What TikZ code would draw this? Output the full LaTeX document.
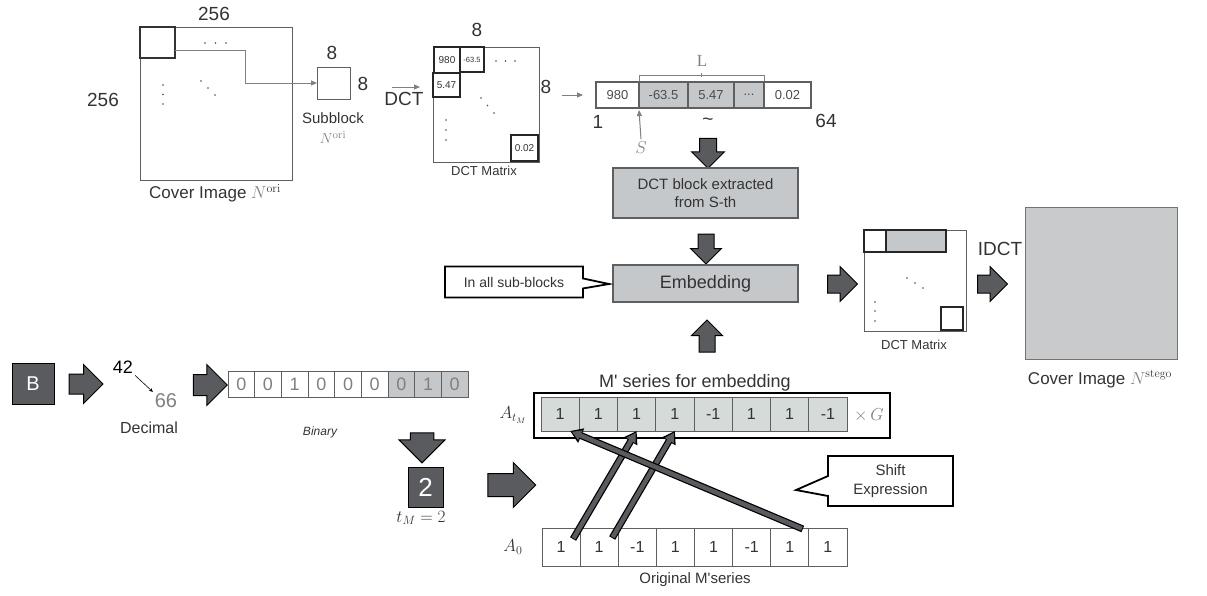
\documentclass[tikz,border=0pt]{standalone}
\usepackage[no-math]{fontspec}
\setmainfont{Liberation Sans}
\newfontfamily\seriffont{Liberation Serif}
\usetikzlibrary{shapes.arrows,shapes.callouts,arrows.meta}
\definecolor{cellgray}{HTML}{C5C8CA}
\definecolor{lightcell}{HTML}{D5DBD9}
\definecolor{darkarrow}{HTML}{5A5B5E}
\definecolor{txtgray}{HTML}{808080}
\definecolor{linegray}{HTML}{5F5F5F}
\definecolor{stegogray}{HTML}{C8CACB}
\definecolor{textdark}{HTML}{333333}
\newcommand\myfs[1]{\fontsize{#1}{#1}\selectfont}
\begin{document}
\begin{tikzpicture}[x=1pt,y=-1pt,
  every node/.style={inner sep=0pt, outer sep=0pt, text=textdark},
  lbl/.style={font=\myfs{#1}},
  bigarrow/.style n args={2}{single arrow, draw=black, fill=darkarrow, line width=1pt,
     inner xsep=0pt, inner ysep=#2/4*1pt, single arrow head extend=#2/4*1pt,
     minimum height=#1pt},
  garrow/.style={draw=txtgray, line width=1pt, -{Triangle[length=6pt,width=5pt]}},
  tcell/.style={draw=black!85, line width=2.2pt},
  acell/.style={draw=linegray, line width=1.2pt, minimum height=26pt, font=\myfs{13}, text=black!70},
  shiftout/.style={draw=black, line width=7pt, -{Triangle[length=12pt,width=15pt]}},
  shiftin/.style={draw=darkarrow, line width=4.5pt, -{Triangle[length=9pt,width=10pt]}, shorten <=1pt, shorten >=2pt},
  callbox/.style={rectangle callout, draw=black, line width=1.8pt, fill=white},
  dot/.style={fill=black!70}
]
\useasboundingbox (0,0) rectangle (1207,595);

% ---------- cover image ----------
\node[draw=linegray, line width=1pt, minimum width=152pt, minimum height=153pt] (cover) at (216,103.5) {};
\node[draw=black!80, line width=1.6pt, minimum width=35pt, minimum height=31pt] (sub0) at (157.5,42.5) {};
\foreach \p in {(205,43),(215.5,43),(226,43),(163,85),(163,94.5),(163,104),(201,81),(208,88),(215,95)}
  \fill[dot] \p circle (0.9);
\node[lbl=19] at (214,14) {256};
\node[lbl=19] at (103,100) {256};
\node[lbl=17] at (215,193) {Cover Image \textcolor{txtgray}{$N$}$^{\mathrm{ori}}$};

\node[draw=linegray, line width=1pt, minimum width=33pt, minimum height=32pt] (sub) at (333.5,83) {};
\node[lbl=19] at (332,53) {8};
\node[lbl=19] at (363,84) {8};
\node[lbl=15] at (333,118) {Subblock};
\node[lbl=15, text=txtgray] at (333,137) {$N^{\mathrm{ori}}$};
\draw[garrow] ([yshift=-7.5pt]sub0.east) -- ++(70,0) |- (sub.west);

% ---------- DCT matrix ----------
\node[draw=linegray, line width=1pt, minimum width=106pt, minimum height=115pt] (dctm) at (486,104.5) {};
\coordinate (dctin) at (392,87);
\draw[garrow] (dctin) -- ([xshift=-13pt,yshift=17.5pt]dctm.west);
\node[lbl=19] at (404,99) {DCT};
\node[tcell, minimum width=26pt, minimum height=26pt, lbl=10] (d1) at (447,60) {980};
\node[tcell, minimum width=24pt, minimum height=25pt, lbl=7.5] (d2) at (472,59.5) {-63.5};
\node[tcell, minimum width=27pt, minimum height=24pt, lbl=10] (d3) at (446.5,85) {5.47};
\node[tcell, minimum width=27pt, minimum height=26pt, lbl=10] (d4) at (524.5,148) {0.02};
\foreach \p in {(496,61),(505.5,61),(515,61),(481,98),(487.5,105.5),(494,113),(446,120),(446,130),(446,140)}
  \fill[dot] \p circle (0.9);
\node[lbl=19] at (477,30) {8};
\node[lbl=19] at (546,87) {8};
\node[lbl=13] at (484,171) {DCT Matrix};

% ---------- coefficient array ----------
\node[acell, minimum width=43pt] (v1) at (617.5,95) {980};
\node[acell, minimum width=49pt, fill=cellgray] (v2) at (663.5,95) {-63.5};
\node[acell, minimum width=46pt, fill=cellgray] (v3) at (711,95) {5.47};
\node[acell, minimum width=30pt, fill=cellgray] (v4) at (749,95) {...};
\node[acell, minimum width=47pt] (v5) at (787.5,95) {0.02};
\draw[garrow] ([xshift=23pt,yshift=9.5pt]dctm.east) -- ([xshift=-13pt]v1.west);
\draw[txtgray, line width=0.9pt] ([yshift=1.5pt]v2.north west) -- ++(0,-5.5) -| ([yshift=1.5pt]v4.north east);
\draw[txtgray, line width=0.9pt] (701.5,76.5) -- (701.5,72.5);
\node[font=\seriffont\myfs{17}, text=txtgray] at (702,61) {L};
\node[lbl=19] at (598,122) {1};
\node[lbl=19] at (826,121) {64};
\node[lbl=19] at (708,122) {\textasciitilde};
\node[lbl=19, text=txtgray] (S) at (641,148) {$S$};
\draw[garrow] ([yshift=3pt]S.north) -- ([yshift=-2pt]v2.south west);

% ---------- processing boxes ----------
\node[bigarrow={30}{32}, rotate=-90] (ar1) at (708,149) {};
\node[draw=linegray, line width=1.2pt, fill=cellgray, minimum width=185pt, minimum height=50pt,
      align=center, font=\myfs{15}] (dctb) at (705.5,193) {DCT block extracted\\[3pt]from S-th};
\node[bigarrow={30}{30}, rotate=-90] (ar2) at (706,245) {};
\node[draw=linegray, line width=1.2pt, fill=cellgray, minimum width=185pt, minimum height=37pt,
      font=\myfs{18}] (emb) at (705.5,283.5) {Embedding};
\node[callbox, minimum width=138pt, minimum height=31pt, callout absolute pointer={(609,284)},
      callout pointer width=10pt, font=\myfs{14}] (call1) at (514,282) {In all sub-blocks};
\node[bigarrow={32}{30}, rotate=90] (ar3) at (707,340) {};

% ---------- DCT matrix 2 and stego ----------
\node[bigarrow={30}{34}] (ar4) at (838,284) {};
\node[draw=linegray, line width=1pt, minimum width=102pt, minimum height=101pt] (dctm2) at (915,280.5) {};
\node[tcell, minimum width=22pt, minimum height=22pt] (r1) at (875,241) {};
\node[tcell, minimum width=60pt, minimum height=22pt, fill=cellgray] (r2) at (916,241) {};
\node[tcell, minimum width=22pt, minimum height=23pt] (r3) at (952,318.5) {};
\foreach \p in {(907,278),(915,283),(923,288),(875,302),(875,311),(875,321)}
  \fill[dot] \p circle (0.9);
\node[lbl=13] at (914,345) {DCT Matrix};
\node[lbl=19] at (1000,249) {IDCT};
\node[bigarrow={30}{34}] (ar5) at (988,284) {};
\node[draw=black!55, line width=1pt, fill=stegogray, minimum width=152pt, minimum height=152pt] (stego) at (1101,283) {};
\node[lbl=17] at (1100,379) {Cover Image \textcolor{txtgray}{$N$}$^{\mathrm{stego}}$};

% ---------- message ----------
\node[draw=black, line width=1pt, fill=darkarrow, minimum width=42pt, minimum height=41pt,
      text=white, font=\myfs{20}] (B) at (33,383.5) {B};
\node[bigarrow={34}{38}] (ar6) at (81,384) {};
\node[lbl=18, text=black] (n42) at (123,367) {42};
\node[lbl=20, text=txtgray] (n66) at (166,401) {66};
\draw[-{Stealth[length=4pt,width=3.5pt]}, line width=0.6pt] ([xshift=2pt,yshift=-2pt]n42.south east) -- ([xshift=-2pt,yshift=2pt]n66.north west);
\node[lbl=16] at (149,428) {Decimal};
\node[bigarrow={34}{40}] (ar7) at (205,385) {};
\foreach \v [count=\i] in {0,0,1,0,0,0,0,1,0} {
  \ifnum\i>6 \def\fc{cellgray}\else\def\fc{white}\fi
  \node[draw=linegray, line width=1pt, fill=\fc, minimum width=26.67pt, minimum height=26pt,
        font=\myfs{18}, text=txtgray] (b\i) at ({228+26.667*(\i-0.5)},384) {\v};
}
\node[font=\itshape\myfs{12}] at (320,432) {Binary};
\node[bigarrow={30}{45}, rotate=-90] (ar8) at (422,442) {};
\node[draw=black, line width=1pt, fill=darkarrow, minimum width=35pt, minimum height=40pt,
      text=white, font=\myfs{26}] (two) at (425.5,487) {2};
\node[lbl=17] at (421,518) {$t_M = 2$};
\node[bigarrow={48}{44}] (ar9) at (506,485) {};

% ---------- M' series ----------
\node[lbl=18] at (695,383) {M\textquotesingle{} series for embedding};
\node[draw=black, line width=2pt, minimum width=356pt, minimum height=45pt] (atbox) at (712,415.5) {};
\foreach \v [count=\i] in {1,1,1,1,-1,1,1,-1}
  \node[draw=linegray, line width=1pt, fill=lightcell, minimum width=38.25pt, minimum height=34pt,
        font=\myfs{16}] (mt\i) at ({541+38.25*(\i-0.5)},414) {\v};
\node[lbl=16, text=txtgray] at (869,415) {$\times\, G$};
\node[lbl=17] at (513,415) {$A_{t_M}$};

\foreach \v [count=\i] in {1,1,-1,1,1,-1,1,1}
  \node[draw=linegray, line width=1pt, fill=white, minimum width=38.125pt, minimum height=38pt,
        font=\myfs{16}] (mz\i) at ({542+38.125*(\i-0.5)},547) {\v};
\node[lbl=17] at (513,547) {$A_0$};
\node[lbl=15] at (695,580) {Original M\textquotesingle{}series};

\node[callbox, minimum width=125pt, minimum height=50pt, callout absolute pointer={(796,490)},
      callout pointer width=20pt, align=center, font=\myfs{15}] (call2) at (890.5,481) {Shift\\[4pt]Expression};

% shift arrows
\draw[shiftout] ([xshift=12pt,yshift=8pt]mz1.center) -- (mt3.south);
\draw[shiftin]  ([xshift=12pt,yshift=8pt]mz1.center) -- (mt3.south);
\draw[shiftout] ([xshift=13pt,yshift=9pt]mz2.center) -- (mt4.south);
\draw[shiftin]  ([xshift=13pt,yshift=9pt]mz2.center) -- (mt4.south);
\draw[shiftout] ([xshift=13pt,yshift=18pt]mz7.center) -- ([xshift=10pt]mt1.south);
\draw[shiftin]  ([xshift=13pt,yshift=18pt]mz7.center) -- ([xshift=10pt]mt1.south);
\end{tikzpicture}
\end{document}
